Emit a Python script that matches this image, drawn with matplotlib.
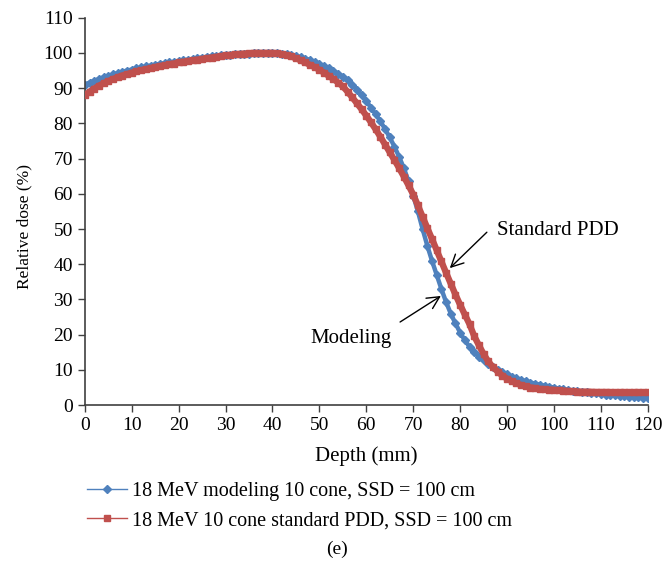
import numpy as np
import matplotlib
matplotlib.use('Agg')
import matplotlib.pyplot as plt

plt.rcParams['font.family'] = ['Liberation Serif', 'DejaVu Serif']

# depth in mm (1 mm steps)
depth = np.arange(0, 121)

# 18 MeV modeling 10 cone
modeling = [
    91.0, 91.6, 92.1, 92.6, 93.1, 93.5, 93.9, 94.3, 94.7, 95.0,
    95.3, 95.6, 95.9, 96.2, 96.4, 96.7, 96.9, 97.1, 97.3, 97.5,
    97.7, 97.9, 98.1, 98.3, 98.5, 98.7, 98.9, 99.0, 99.2, 99.3,
    99.4, 99.5, 99.6, 99.7, 99.8, 99.8, 99.9, 99.9, 100.0, 100.0,
    100.0, 99.9, 99.8, 99.6, 99.4, 99.1, 98.8, 98.4, 98.0, 97.5,
    96.9, 96.3, 95.6, 94.9, 94.1, 93.3, 92.2, 91.0, 89.6, 88.0,
    86.3, 84.5, 82.6, 80.6, 78.4, 76.0, 73.4, 70.5, 67.3, 63.6,
    59.5, 55.0, 50.0, 45.3, 41.0, 37.0, 33.0, 29.3, 26.0, 23.2,
    20.6, 18.4, 16.6, 15.1, 13.8, 12.7, 11.7, 10.8, 10.0, 9.3,
    8.7, 8.1, 7.6, 7.2, 6.8, 6.4, 6.1, 5.8, 5.5, 5.2,
    5.0, 4.7, 4.5, 4.3, 4.1, 3.9, 3.7, 3.6, 3.4, 3.3,
    3.1, 3.0, 2.9, 2.8, 2.6, 2.5, 2.4, 2.3, 2.2, 2.1,
    2.0,
]

# 18 MeV 10 cone standard PDD
standard = [
    88.0, 89.0, 89.9, 90.7, 91.4, 92.0, 92.6, 93.1, 93.6, 94.0,
    94.4, 94.8, 95.1, 95.4, 95.7, 96.0, 96.3, 96.5, 96.8, 97.0,
    97.3, 97.5, 97.7, 97.9, 98.1, 98.3, 98.5, 98.7, 98.9, 99.1,
    99.3, 99.4, 99.6, 99.7, 99.8, 99.9, 100.0, 100.0, 100.0, 100.0,
    100.0, 99.9, 99.7, 99.4, 99.0, 98.5, 97.9, 97.3, 96.6, 96.0,
    95.2, 94.4, 93.5, 92.6, 91.6, 90.5, 89.0, 87.4, 85.7, 84.0,
    82.2, 80.3, 78.3, 76.2, 74.0, 71.8, 69.6, 67.3, 64.9, 62.4,
    59.8, 56.7, 53.5, 50.3, 47.2, 44.0, 40.8, 37.6, 34.5, 31.4,
    28.5, 25.7, 23.0, 19.6, 17.0, 14.5, 12.4, 10.8, 9.5, 8.4,
    7.5, 6.8, 6.2, 5.7, 5.3, 5.0, 4.8, 4.6, 4.5, 4.4,
    4.3, 4.2, 4.1, 4.0, 3.9, 3.85, 3.8, 3.8, 3.75, 3.7,
    3.7, 3.7, 3.65, 3.65, 3.6, 3.6, 3.6, 3.6, 3.6, 3.6,
    3.6,
]

blue = '#4F81BD'
red = '#C0504D'
axcol = '#404040'

fig = plt.figure(figsize=(6.63, 5.73), dpi=100)
ax = fig.add_axes([0.128, 0.293, 0.849, 0.676])

# thick bands underneath so the dense markers read as a solid trace
ax.plot(depth, modeling, color=blue, linewidth=3.2, solid_capstyle='butt', zorder=2)
ax.plot(depth, modeling, color=blue, marker='D', markersize=3.6, linewidth=1,
        label='18 MeV modeling 10 cone, SSD = 100 cm', zorder=2.2)
ax.plot(depth, standard, color=red, linewidth=4.6, solid_capstyle='butt', zorder=3)
ax.plot(depth, standard, color=red, marker='s', markersize=4.8, linewidth=1,
        label='18 MeV 10 cone standard PDD, SSD = 100 cm', zorder=3.2)

ax.set_xlim(0, 120)
ax.set_ylim(0, 110)
ax.set_xticks(range(0, 121, 10))
ax.set_yticks(range(0, 111, 10))
ax.spines['top'].set_visible(False)
ax.spines['right'].set_visible(False)
for s in ['left', 'bottom']:
    ax.spines[s].set_color(axcol)
    ax.spines[s].set_linewidth(1.2)
ax.tick_params(direction='out', length=5, width=1, color=axcol, labelsize=14)
ax.set_xlabel('Depth (mm)', fontsize=15, labelpad=9)
ax.set_ylabel('Relative dose (%)', fontsize=12.5)
ax.yaxis.set_label_coords(-0.094, 0.46)

# arrows + labels
ax.annotate('', xy=(77.8, 38.9), xytext=(85.7, 49.1),
            arrowprops=dict(arrowstyle='->', color='black', lw=1,
                            shrinkA=0, shrinkB=0, mutation_scale=22))
ax.text(87.8, 49.7, 'Standard PDD', fontsize=15, va='center', ha='left')
ax.annotate('', xy=(75.9, 31.0), xytext=(67.2, 23.6),
            arrowprops=dict(arrowstyle='->', color='black', lw=1,
                            shrinkA=0, shrinkB=0, mutation_scale=22))
ax.text(56.8, 19.0, 'Modeling', fontsize=15, va='center', ha='center')

fig.legend(loc='upper left', bbox_to_anchor=(0.116, 0.176), frameon=False,
           fontsize=14.5, handlelength=2.0, handletextpad=0.25,
           labelspacing=0.5, borderpad=0)

fig.text(0.508, 0.042, '(e)', fontsize=14, ha='center', va='center')

fig.savefig('out.png', dpi=100)
